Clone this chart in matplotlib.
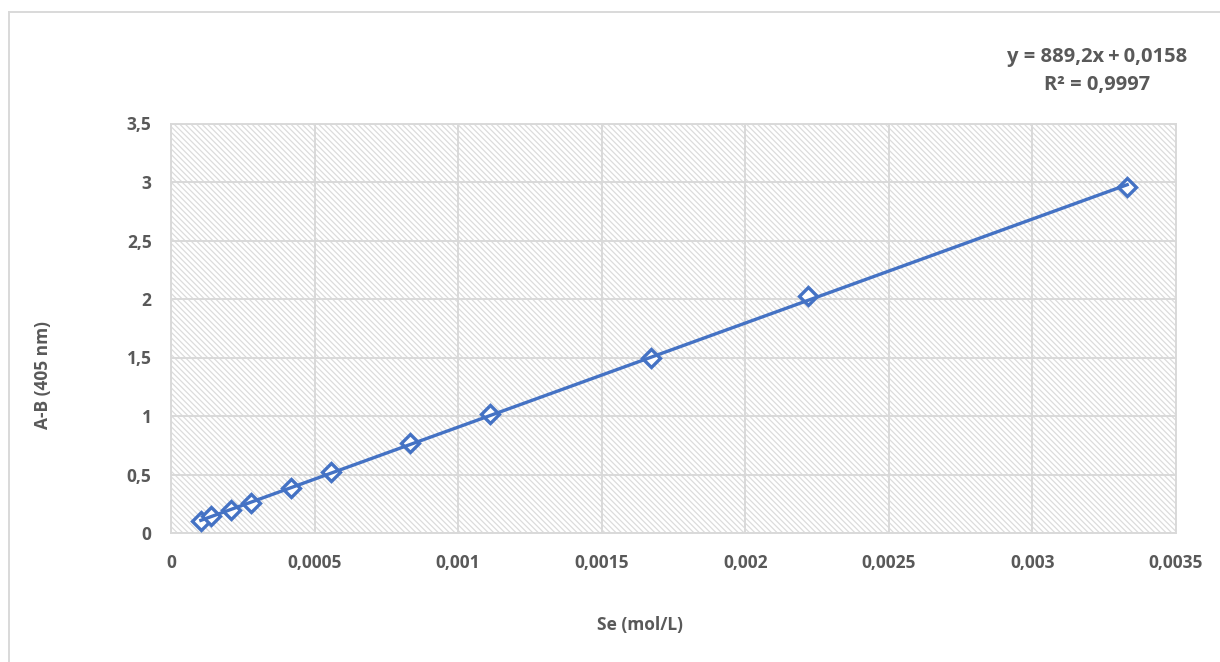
import numpy as np
import matplotlib
matplotlib.use("Agg")
import matplotlib.pyplot as plt
from matplotlib.ticker import FuncFormatter, MultipleLocator
from matplotlib.lines import Line2D

# Calibration data
se_conc = [0.000104, 0.000139, 0.000208, 0.000278, 0.000417, 0.000556,
           0.000833, 0.00111, 0.00167, 0.00222, 0.00333]
absorb = [0.105, 0.142, 0.195, 0.258, 0.385, 0.52, 0.765, 1.015, 1.495, 2.025, 2.955]

# Trendline shown in the chart
slope = 889.2
intercept = 0.0158
r2 = 0.9997

blue = "#4472C4"
grey_txt = "#595959"
grid_c = "#d9d9d9"
fs = 12.5

plt.rcParams['font.family'] = ['Open Sans', 'DejaVu Sans']
plt.rcParams['hatch.color'] = '#dcdcdc'
plt.rcParams['hatch.linewidth'] = 0.9

fig = plt.figure(figsize=(12.2, 6.62), dpi=100)
ax = fig.add_axes([171/1220, 1 - 533/662, (1176-171)/1220, (533-123.5)/662])

# hatched plot area
ax.patch.set_facecolor("white")
ax.patch.set_hatch("\\" * 6)
ax.patch.set_edgecolor('#dcdcdc')

ax.set_xlim(0, 0.0035)
ax.set_ylim(0, 3.5)
ax.xaxis.set_major_locator(MultipleLocator(0.0005))
ax.yaxis.set_major_locator(MultipleLocator(0.5))

fmt = FuncFormatter(lambda v, p: f"{v:g}".replace(".", ","))
ax.xaxis.set_major_formatter(fmt)
ax.yaxis.set_major_formatter(fmt)

ax.grid(True, color=grid_c, linewidth=1.4)
ax.set_axisbelow(True)
for s in ax.spines.values():
    s.set_color(grid_c)
    s.set_linewidth(1.4)

ax.tick_params(length=0, labelsize=fs, labelcolor=grey_txt)
ax.tick_params(axis='x', pad=15)
ax.tick_params(axis='y', pad=14)
for lab in ax.get_xticklabels() + ax.get_yticklabels():
    lab.set_fontweight('bold')

# markers then trendline on top
ax.plot(se_conc, absorb, linestyle='none', marker='D', markersize=9,
        markerfacecolor='white', markeredgecolor=blue, markeredgewidth=2.4, zorder=3)
xs = np.array([min(se_conc), max(se_conc)])
ax.plot(xs, slope * xs + intercept, color=blue, linewidth=2.4, zorder=4)

ax.set_xlabel("Se (mol/L)", fontsize=fs, fontweight='bold', color=grey_txt)
ax.set_ylabel("A-B (405 nm)", fontsize=fs, fontweight='bold', color=grey_txt)
ax.xaxis.set_label_coords((640 - 171) / 1005, (533 - 625) / 409.5)
ax.yaxis.set_label_coords((43 - 171) / 1005, (533 - 375) / 409.5)
ax.xaxis.label.set_va('center')
ax.yaxis.label.set_va('center')

eq = f"y = {slope:g}x+{intercept:g}".replace(".", ",").replace("x+", "x\u2009+\u2009")
fig.text(1097/1220, 1 - 57/662, eq,
         ha='center', va='center', fontsize=14.5, fontweight='bold', color=grey_txt)
fig.text(1097/1220, 1 - 85/662, f"R² = {r2:g}".replace(".", ","),
         ha='center', va='center', fontsize=14.5, fontweight='bold', color=grey_txt)

# outer chart border (left and top visible)
fig.add_artist(Line2D([9/1220, 9/1220], [0, 1 - 12/662], transform=fig.transFigure,
                      color=grid_c, linewidth=1.4))
fig.add_artist(Line2D([9/1220, 1], [1 - 12/662, 1 - 12/662], transform=fig.transFigure,
                      color=grid_c, linewidth=1.4))

fig.savefig("out.png", dpi=100)
